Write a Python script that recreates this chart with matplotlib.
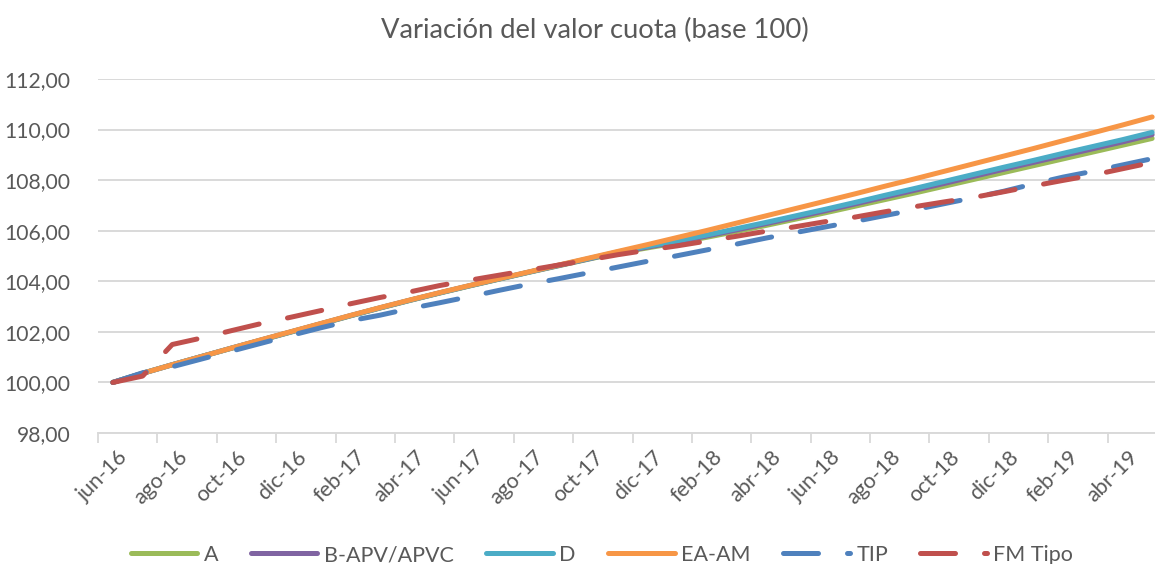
import numpy as np
import matplotlib
matplotlib.use("Agg")
import matplotlib.pyplot as plt
import matplotlib.transforms as mtransforms
from matplotlib.ticker import FixedLocator, FuncFormatter

plt.rcParams['font.family'] = ['Lato', 'DejaVu Sans']

months = ['jun-16', 'jul-16', 'ago-16', 'sep-16', 'oct-16', 'nov-16', 'dic-16',
          'ene-17', 'feb-17', 'mar-17', 'abr-17', 'may-17', 'jun-17', 'jul-17',
          'ago-17', 'sep-17', 'oct-17', 'nov-17', 'dic-17', 'ene-18', 'feb-18',
          'mar-18', 'abr-18', 'may-18', 'jun-18', 'jul-18', 'ago-18', 'sep-18',
          'oct-18', 'nov-18', 'dic-18', 'ene-19', 'feb-19', 'mar-19', 'abr-19',
          'may-19']

serie_A = [100.00, 100.36, 100.70, 101.03, 101.35, 101.67, 101.99, 102.31, 102.63,
           102.94, 103.24, 103.53, 103.81, 104.08, 104.35, 104.61, 104.87, 105.12,
           105.32, 105.52, 105.74, 105.97, 106.21, 106.46, 106.71, 106.97, 107.23,
           107.49, 107.76, 108.03, 108.30, 108.57, 108.84, 109.11, 109.38, 109.65]
serie_B = [100.00, 100.36, 100.70, 101.03, 101.36, 101.68, 102.00, 102.32, 102.64,
           102.95, 103.25, 103.54, 103.82, 104.09, 104.36, 104.62, 104.88, 105.14,
           105.35, 105.56, 105.79, 106.03, 106.28, 106.53, 106.79, 107.06, 107.33,
           107.60, 107.87, 108.15, 108.43, 108.70, 108.97, 109.24, 109.51, 109.80]
serie_D = [100.00, 100.36, 100.70, 101.03, 101.36, 101.68, 102.00, 102.32, 102.64,
           102.95, 103.25, 103.54, 103.82, 104.09, 104.36, 104.63, 104.89, 105.16,
           105.38, 105.60, 105.83, 106.08, 106.33, 106.59, 106.85, 107.12, 107.40,
           107.67, 107.95, 108.23, 108.51, 108.78, 109.06, 109.33, 109.60, 109.89]
serie_EA = [100.00, 100.36, 100.70, 101.03, 101.36, 101.69, 102.01, 102.33, 102.65,
            102.96, 103.26, 103.55, 103.83, 104.10, 104.37, 104.64, 104.91, 105.18,
            105.45, 105.73, 106.01, 106.30, 106.59, 106.88, 107.17, 107.46, 107.76,
            108.05, 108.35, 108.65, 108.95, 109.25, 109.56, 109.87, 110.18, 110.50]
serie_TIP = [100.00, 100.38, 100.62, 100.93, 101.24, 101.55, 101.86, 102.16, 102.44,
             102.66, 102.92, 103.15, 103.39, 103.64, 103.88, 104.10, 104.33, 104.56,
             104.79, 105.01, 105.24, 105.47, 105.71, 105.93, 106.15, 106.37, 106.60,
             106.83, 107.07, 107.31, 107.56, 107.85, 108.12, 108.35, 108.60, 108.85]
serie_FM = [100.00, 100.25, 101.50, 101.76, 102.05, 102.33, 102.58, 102.84, 103.11,
            103.36, 103.58, 103.83, 104.04, 104.24, 104.44, 104.64, 104.84, 105.05,
            105.23, 105.40, 105.59, 105.78, 105.98, 106.16, 106.36, 106.54, 106.75,
            106.95, 107.14, 107.32, 107.54, 107.77, 107.99, 108.20, 108.45, 108.70]

series_names = ['A', 'B-APV/APVC', 'D', 'EA-AM', 'TIP', 'FM Tipo']
series_colors = ['#9BBB59', '#8064A2', '#4BACC6', '#F79646', '#4F81BD', '#C0504D']
y_ticks = [98, 100, 102, 104, 106, 108, 110, 112]

W, H = 1155, 564
fig = plt.figure(figsize=(W / 100, H / 100), dpi=100)
left, right, top, bottom = 98, 1167, 79, 433
ax = fig.add_axes([left / W, 1 - bottom / H, (right - left) / W, (bottom - top) / H])

x = np.arange(len(months)) + 0.5
all_series = [serie_A, serie_B, serie_D, serie_EA, serie_TIP, serie_FM]
lw = 3.6
for i, (vals, name, col) in enumerate(zip(all_series, series_names, series_colors)):
    if name in ('TIP', 'FM Tipo'):
        ax.plot(x, vals, color=col, lw=lw, label=name, dashes=(7.0, 5.8),
                dash_capstyle='round', solid_capstyle='round', zorder=3 + i)
    else:
        ax.plot(x, vals, color=col, lw=lw, label=name,
                solid_capstyle='round', solid_joinstyle='round', zorder=3 + i)

ax.set_xlim(0, len(months))
ax.set_ylim(98, 112)

# y axis
ax.yaxis.set_major_locator(FixedLocator(y_ticks))
ax.yaxis.set_major_formatter(FuncFormatter(lambda v, p: f"{v:.2f}".replace('.', ',')))
ax.tick_params(axis='y', length=0, pad=20, labelsize=15.2, labelcolor='#595959')
ax.grid(axis='y', color='#D9D9D9', lw=1.4, zorder=0)

# x axis: tick marks at boundaries, labels at category centers
ax.xaxis.set_major_locator(FixedLocator(np.arange(0, len(months) + 1, 2)))
ax.xaxis.set_major_formatter(FuncFormatter(lambda v, p: ''))
ax.xaxis.set_minor_locator(FixedLocator(x[::2]))
ax.set_xticklabels(months[::2], minor=True)
ax.tick_params(axis='x', which='major', length=7, width=1.3, color='#D9D9D9', direction='out')
ax.tick_params(axis='x', which='minor', length=0, pad=10, labelsize=15.5, labelcolor='#595959')
offset = mtransforms.ScaledTranslation(5 / 100, 0, fig.dpi_scale_trans)
for lab in ax.get_xticklabels(minor=True):
    lab.set_rotation(45)
    lab.set_ha('right')
    lab.set_va('top')
    lab.set_rotation_mode('anchor')
    lab.set_transform(lab.get_transform() + offset)

for s in ['left', 'right', 'top']:
    ax.spines[s].set_visible(False)
ax.spines['bottom'].set_color('#D9D9D9')
ax.spines['bottom'].set_linewidth(1.4)
ax.set_axisbelow(True)

fig.text(595 / W, 1 - 30 / H, 'Variación del valor cuota (base 100)', ha='center', va='center',
         fontsize=19.7, color='#595959')

leg = fig.legend(loc='center', bbox_to_anchor=(602 / W, 1 - 555 / H), ncol=6, frameon=False,
                 fontsize=15.5, handlelength=3.1, handletextpad=0.3, columnspacing=1.5,
                 labelcolor='#595959')

fig.savefig('out.png', dpi=100)
